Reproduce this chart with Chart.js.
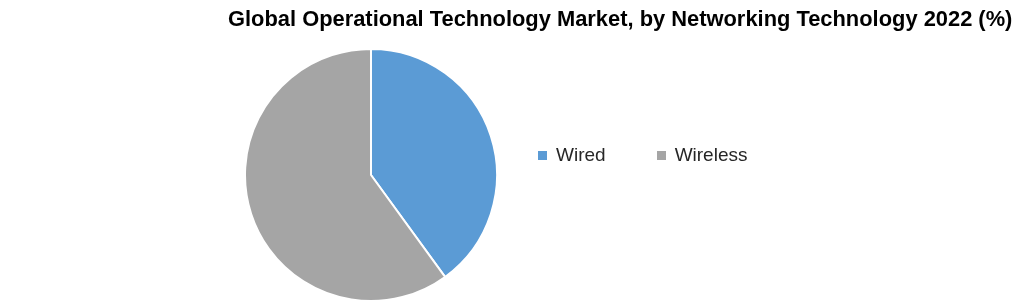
<!DOCTYPE html>
<html>
<head>
<meta charset="utf-8">
<script src="https://cdn.jsdelivr.net/npm/chart.js@4"></script>
<style>
  html, body { margin: 0; padding: 0; background: #ffffff; }
  #wrap { position: relative; width: 1020px; height: 303px; }
  #legend { position: absolute; left: 538px; top: 143px; height: 24px; display: flex; align-items: center;
            font-family: "Liberation Sans", Arial, sans-serif; font-size: 19px; color: #262626; }
  .item { display: flex; align-items: center; }
  .sw { width: 9px; height: 9px; margin-right: 9px; }
</style>
</head>
<body>
<div id="wrap">
  <canvas id="c" width="1020" height="303"></canvas>
  <div id="legend"></div>
</div>
<script>
const titleText = "Global Operational Technology Market, by Networking Technology 2022 (%)";
const categories = ["Wired", "Wireless"];
const shares = [40, 60];
const colors = ["#5B9BD5", "#A5A5A5"];

// fit title font size to the reference width
const mc = document.createElement("canvas").getContext("2d");
const targetW = 785;
let fs = 20;
mc.font = "bold " + fs + "px 'Liberation Sans'";
fs = Math.min(22, fs * targetW / mc.measureText(titleText).width);

// HTML legend built from the arrays
const leg = document.getElementById("legend");
categories.forEach((c, i) => {
  const it = document.createElement("div");
  it.className = "item";
  it.style.marginRight = i === 0 ? "51px" : "0";
  const sw = document.createElement("span");
  sw.className = "sw";
  sw.style.background = colors[i];
  const tx = document.createElement("span");
  tx.textContent = c;
  it.appendChild(sw); it.appendChild(tx);
  leg.appendChild(it);
});

// place the pie area (left-of-centre, like the reference)
const pieArea = {
  id: "pieArea",
  afterLayout(chart) {
    const a = chart.chartArea;
    a.left = 244; a.right = 498; a.top = 48; a.bottom = 302;
    a.width = a.right - a.left; a.height = a.bottom - a.top;
  }
};

new Chart(document.getElementById("c"), {
  type: "pie",
  data: {
    labels: categories,
    datasets: [{
      data: shares,
      backgroundColor: colors,
      borderColor: "#ffffff",
      borderWidth: 2
    }]
  },
  options: {
    responsive: false,
    animation: false,
    layout: { padding: { left: 228, right: 0, top: 0, bottom: 0 } },
    plugins: {
      legend: { display: false },
      tooltip: { enabled: false },
      title: {
        display: true,
        text: titleText,
        align: "start",
        color: "#000000",
        font: { family: "'Liberation Sans'", weight: "bold", size: fs, lineHeight: 1.2 },
        padding: { top: 7, bottom: 10 }
      }
    }
  },
  plugins: [pieArea]
});
</script>
</body>
</html>
